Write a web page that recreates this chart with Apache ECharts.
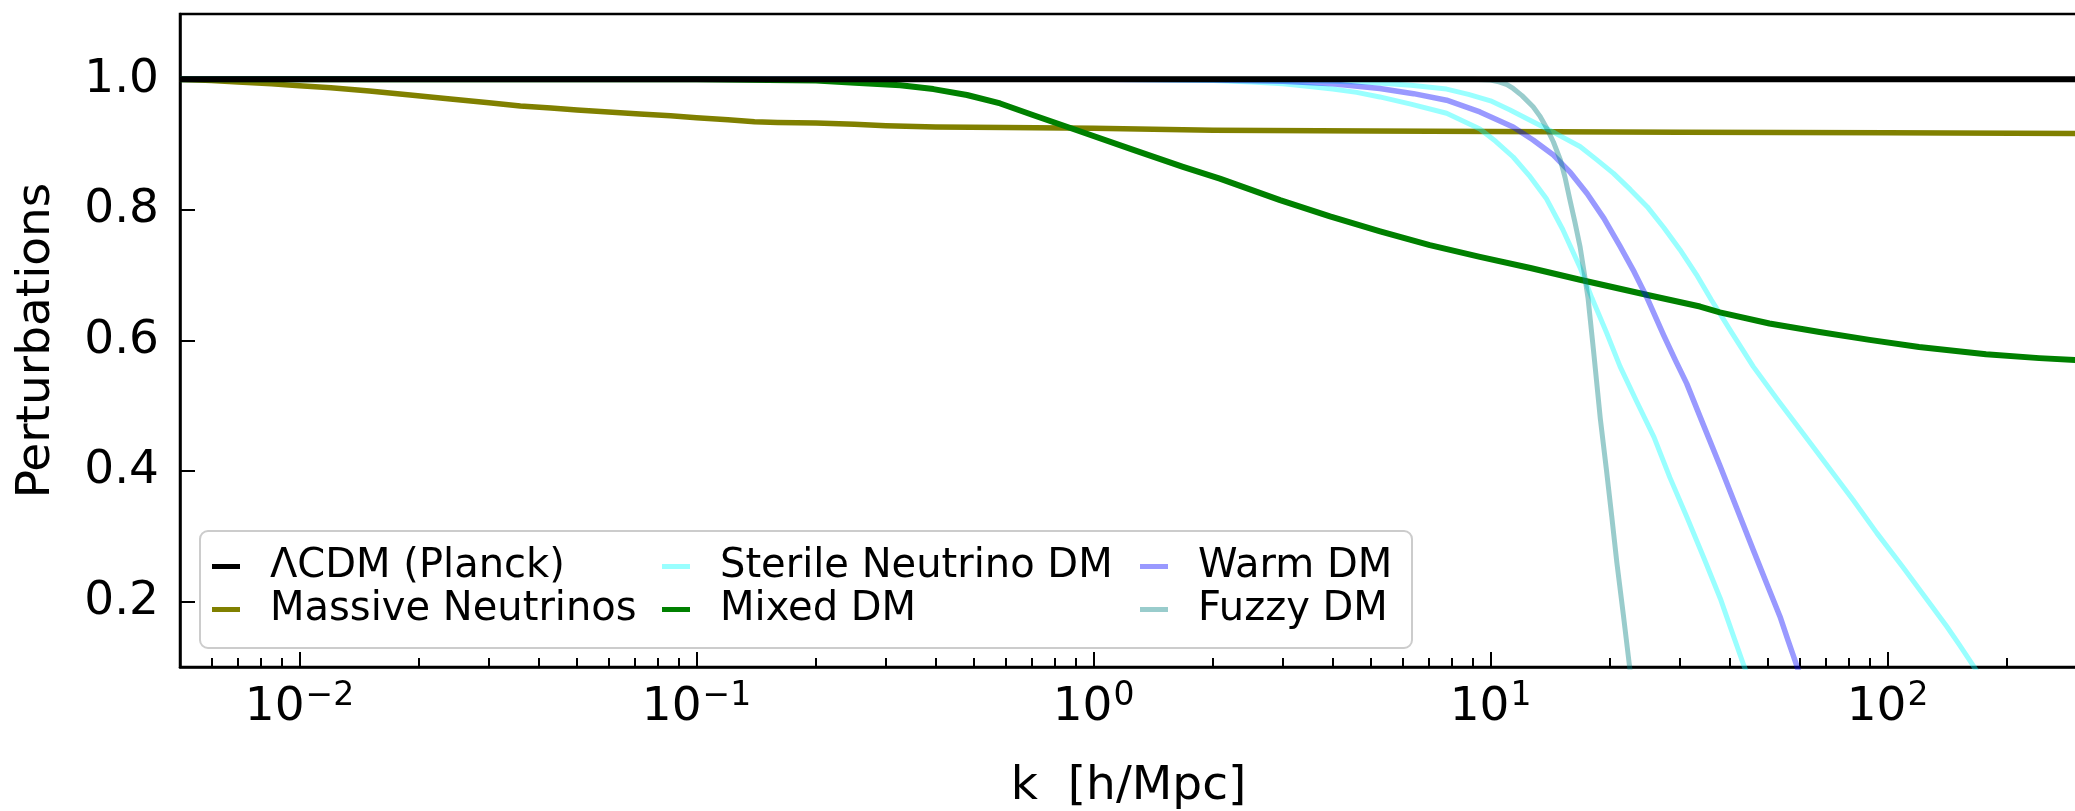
<!DOCTYPE html>
<html>
<head>
<meta charset="utf-8">
<script src="https://cdn.jsdelivr.net/npm/echarts@6/dist/echarts.min.js"></script>
<style>
html,body{margin:0;padding:0;background:#ffffff;}
#c{width:2075px;height:811px;}
</style>
</head>
<body>
<div id="c"></div>
<script>
// ---------- data ----------
const lcdmK = [0.005, 300];
const lcdmV = [1.0, 1.0];

const massiveK = [0.005, 0.006, 0.007, 0.0085, 0.01, 0.012, 0.015, 0.019, 0.024, 0.03, 0.036, 0.043, 0.05, 0.06, 0.072, 0.086, 0.1, 0.12, 0.14, 0.16, 0.2, 0.25, 0.3, 0.4, 0.6, 1, 2, 5, 10, 30, 100, 300];
const massiveV = [1.0, 0.998, 0.996, 0.993, 0.990, 0.987, 0.982, 0.976, 0.970, 0.964, 0.959, 0.956, 0.953, 0.950, 0.947, 0.944, 0.941, 0.938, 0.935, 0.934, 0.933, 0.931, 0.929, 0.927, 0.926, 0.925, 0.922, 0.921, 0.920, 0.919, 0.918, 0.917];

const sterileAK = [0.005, 1, 1.5, 2, 2.5, 3, 3.5, 4, 4.6, 5.26, 6.3, 7.75, 9.4, 10.3, 11.4, 12.5, 13.8, 15.2, 16.8, 18, 19.6, 21.2, 23.4, 25.8, 28.3, 31.2, 34.4, 37.9, 40.5, 43.4, 47];
const sterileAV = [1.0, 1.0, 0.999, 0.998, 0.996, 0.993, 0.989, 0.985, 0.980, 0.973, 0.962, 0.948, 0.924, 0.905, 0.881, 0.853, 0.818, 0.770, 0.712, 0.665, 0.612, 0.56, 0.505, 0.452, 0.39, 0.33, 0.268, 0.205, 0.155, 0.103, 0.05];

const sterileBK = [0.005, 1, 3, 4, 5, 6.3, 7.75, 8.8, 10, 11.2, 12.5, 14.5, 16.8, 18.5, 20.4, 22.5, 24.8, 27.3, 30, 33, 36, 40.5, 45.9, 53, 61.2, 71, 81.8, 94, 109, 124, 141, 152, 164, 180];
const sterileBV = [1.0, 1.0, 0.999, 0.997, 0.995, 0.991, 0.985, 0.977, 0.967, 0.953, 0.938, 0.918, 0.897, 0.877, 0.856, 0.831, 0.805, 0.773, 0.739, 0.701, 0.662, 0.612, 0.56, 0.508, 0.458, 0.406, 0.356, 0.305, 0.254, 0.208, 0.162, 0.133, 0.103, 0.065];

const mixedK = [0.005, 0.1, 0.2, 0.244, 0.326, 0.395, 0.48, 0.582, 0.706, 0.908, 1.26, 1.68, 2.08, 2.95, 3.94, 5.27, 7.03, 9.4, 12.6, 16.8, 24.7, 33.7, 37.8, 50.4, 67.4, 90.1, 120, 177, 241, 300];
const mixedV = [1.0, 1.0, 0.998, 0.995, 0.991, 0.985, 0.976, 0.963, 0.945, 0.922, 0.892, 0.866, 0.848, 0.815, 0.790, 0.767, 0.746, 0.728, 0.711, 0.693, 0.670, 0.652, 0.643, 0.626, 0.613, 0.601, 0.590, 0.579, 0.573, 0.570];

const warmK = [0.005, 1, 2, 3, 4, 5.26, 6.4, 7.75, 9.4, 11.4, 12.8, 14.4, 15.9, 17.5, 19.3, 21.2, 23, 24.8, 27.3, 29.2, 31.2, 34.4, 37.9, 41.7, 45.9, 49.6, 53.6, 56.2, 59, 63];
const warmV = [1.0, 1.0, 0.999, 0.997, 0.993, 0.986, 0.978, 0.968, 0.950, 0.927, 0.907, 0.884, 0.857, 0.825, 0.787, 0.744, 0.705, 0.665, 0.608, 0.570, 0.534, 0.470, 0.407, 0.343, 0.279, 0.228, 0.177, 0.140, 0.103, 0.05];

const fuzzyK = [0.005, 9, 10, 10.5, 11, 11.4, 12, 12.8, 13.3, 13.8, 14.4, 15, 15.4, 15.85, 16.3, 16.8, 17.2, 17.6, 18.2, 18.9, 19.6, 20.2, 20.8, 21.6, 22.4, 23.2];
const fuzzyV = [1.0, 1.0, 0.999, 0.996, 0.992, 0.986, 0.975, 0.958, 0.944, 0.927, 0.904, 0.876, 0.850, 0.815, 0.782, 0.744, 0.705, 0.665, 0.580, 0.480, 0.400, 0.330, 0.260, 0.180, 0.100, 0.030];

const legendCol1 = ['ΛCDM (Planck)', 'Massive Neutrinos'];
const legendCol2 = ['Sterile Neutrino DM', 'Mixed DM'];
const legendCol3 = ['Warm DM', 'Fuzzy DM'];

const xTickValues = [0.01, 0.1, 1, 10, 100];
const xTickExponents = ['−2', '−1', '0', '1', '2'];
const xMinorTicks = [0.006, 0.007, 0.008, 0.009,
  0.02, 0.03, 0.04, 0.05, 0.06, 0.07, 0.08, 0.09,
  0.2, 0.3, 0.4, 0.5, 0.6, 0.7, 0.8, 0.9,
  2, 3, 4, 5, 6, 7, 8, 9,
  20, 30, 40, 50, 60, 70, 80, 90,
  200, 300];
const yTickValues = [0.2, 0.4, 0.6, 0.8, 1.0];
const yTickLabels = ['0.2', '0.4', '0.6', '0.8', '1.0'];

// ---------- chart ----------
const FONT = 'DejaVu Sans';
const chart = echarts.init(document.getElementById('c'), null, {renderer: 'canvas'});

function pairs(k, v) { return k.map((x, i) => [x, v[i]]); }
function line(name, k, v, color, width, z) {
  return {
    type: 'line', name: name, data: pairs(k, v), z: z || 2,
    showSymbol: false, symbol: 'none',
    smooth: false,
    lineStyle: {color: color, width: width, cap: 'butt', join: 'round'},
    itemStyle: {color: color},
    emphasis: {disabled: true},
    clip: true, animation: false
  };
}

const legendBase = {
  orient: 'vertical', itemWidth: 28, itemHeight: 5, itemGap: 0, icon: 'rect',
  selectedMode: false, padding: 0, top: 545,
  textStyle: {fontFamily: FONT, fontSize: 40, color: '#000', lineHeight: 43, padding: [0, 0, 0, 25]}
};

const option = {
  backgroundColor: '#ffffff',
  animation: false,
  grid: {left: 180, right: -2, top: 14, bottom: 144, show: true, borderColor: '#000', borderWidth: 2.5,
         backgroundColor: 'transparent', containLabel: false, outerBoundsMode: 'none'},
  legend: [
    Object.assign({}, legendBase, {left: 212, data: legendCol1}),
    Object.assign({}, legendBase, {left: 662, data: legendCol2}),
    Object.assign({}, legendBase, {left: 1140, data: legendCol3})
  ],
  graphic: [{
    type: 'rect', z: 3, silent: true,
    shape: {x: 200, y: 531, width: 1212, height: 117, r: 8},
    style: {fill: 'rgba(255,255,255,0.8)', stroke: '#cccccc', lineWidth: 2}
  }],
  xAxis: [{
    type: 'log', logBase: 10, min: 0.005, max: 300, position: 'bottom',
    axisLine: {show: true, onZero: false, lineStyle: {color: '#000', width: 2.5}},
    axisTick: {show: true, inside: true, length: 15, lineStyle: {color: '#000', width: 2}, customValues: xTickValues},
    minorTick: {show: false},
    splitLine: {show: false},
    axisLabel: {
      customValues: xTickValues, margin: 13, color: '#000',
      formatter: function (v) {
        let idx = 0, best = Infinity;
        xTickValues.forEach((t, i) => { const d = Math.abs(Math.log10(t) - Math.log10(v)); if (d < best) { best = d; idx = i; } });
        return '{b|10}{s|' + xTickExponents[idx] + '}';
      },
      rich: {
        b: {fontFamily: FONT, fontSize: 47, color: '#000'},
        s: {fontFamily: FONT, fontSize: 33, color: '#000', padding: [0, 0, 23, 1]}
      }
    },
    name: 'k  [h/Mpc]', nameLocation: 'middle', nameGap: 96,
    nameTextStyle: {fontFamily: FONT, fontSize: 47, color: '#000'}
  }, {
    type: 'log', logBase: 10, min: 0.005, max: 300, position: 'bottom',
    axisLine: {show: false},
    axisLabel: {show: false},
    splitLine: {show: false},
    axisTick: {show: true, inside: true, length: 9, lineStyle: {color: '#000', width: 2}, customValues: xMinorTicks}
  }],
  yAxis: {
    type: 'value', min: 0.1, max: 1.1, position: 'left',
    axisLine: {show: true, onZero: false, lineStyle: {color: '#000', width: 2.5}},
    axisTick: {show: true, inside: true, length: 15, lineStyle: {color: '#000', width: 2}, customValues: yTickValues},
    splitLine: {show: false},
    axisLabel: {
      customValues: yTickValues, margin: 21, color: '#000', fontFamily: FONT, fontSize: 47,
      formatter: function (v) {
        let idx = 0, best = Infinity;
        yTickValues.forEach((t, i) => { const d = Math.abs(t - v); if (d < best) { best = d; idx = i; } });
        return yTickLabels[idx];
      }
    },
    name: 'Perturbations', nameLocation: 'middle', nameGap: 120, nameRotate: 90,
    nameTextStyle: {fontFamily: FONT, fontSize: 47, color: '#000'}
  },
  series: [
    line('ΛCDM (Planck)', lcdmK, lcdmV, '#000000', 6, 3),
    line('Massive Neutrinos', massiveK, massiveV, '#808000', 5.5),
    line('Sterile Neutrino DM', sterileAK, sterileAV, 'rgba(0,255,255,0.4)', 5),
    line('Sterile Neutrino DM', sterileBK, sterileBV, 'rgba(0,255,255,0.4)', 5),
    line('Mixed DM', mixedK, mixedV, '#008000', 6),
    line('Warm DM', warmK, warmV, 'rgba(0,0,255,0.4)', 5.5),
    line('Fuzzy DM', fuzzyK, fuzzyV, 'rgba(0,128,128,0.4)', 5)
  ]
};
chart.setOption(option);
</script>
</body>
</html>
